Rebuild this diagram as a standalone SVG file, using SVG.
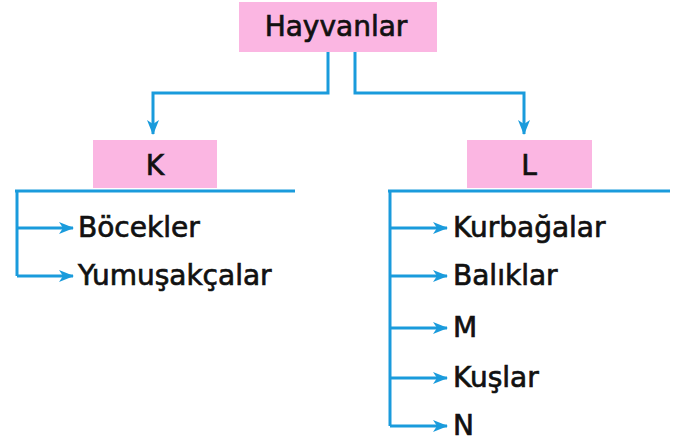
<svg xmlns="http://www.w3.org/2000/svg" width="681" height="443" viewBox="0 0 681 443">
<style>
.box{fill:#fbb6e2}
.t{font-family:"DejaVu Sans",sans-serif;font-size:28px;fill:#111;stroke:#111;stroke-width:0.7}
.c{fill:none;stroke:#1a9bdc;stroke-width:3}
</style>
<defs>
<marker id="ah" viewBox="0 0 15 12" refX="14" refY="6" markerWidth="15" markerHeight="12" markerUnits="userSpaceOnUse" orient="auto">
<path d="M0,0 L15,6 L0,12 L4,6 Z" fill="#1a9bdc"/>
</marker>
</defs>
<rect width="681" height="443" fill="#fff"/>
<g id="hayvanlar"><rect class="box" x="239" y="2" width="198" height="50"/><text class="t" x="336" y="36" text-anchor="middle">Hayvanlar</text></g>
<g id="k"><rect class="box" x="93" y="140" width="124" height="48"/><text class="t" x="155" y="175" text-anchor="middle">K</text></g>
<g id="l"><rect class="box" x="467" y="140" width="125" height="48"/><text class="t" x="529" y="175" text-anchor="middle">L</text></g>
<g id="bocekler"><text class="t" x="78" y="237">Böcekler</text></g>
<g id="yumusakcalar"><text class="t" x="78" y="285">Yumuşakçalar</text></g>
<g id="kurbagalar"><text class="t" x="453" y="237">Kurbağalar</text></g>
<g id="baliklar"><text class="t" x="453" y="285">Balıklar</text></g>
<g id="m"><text class="t" x="453" y="337">M</text></g>
<g id="kuslar"><text class="t" x="453" y="387">Kuşlar</text></g>
<g id="n"><text class="t" x="453" y="435">N</text></g>
<g id="connectors">
<path class="c" d="M328,52 V93 H153 V134" marker-end="url(#ah)"/>
<path class="c" d="M355,52 V93 H524 V134" marker-end="url(#ah)"/>
<path class="c" d="M15,191 H295"/>
<path class="c" d="M17,191 V276"/>
<path class="c" d="M17,228 H73" marker-end="url(#ah)"/>
<path class="c" d="M17,276 H73" marker-end="url(#ah)"/>
<path class="c" d="M388,191 H670"/>
<path class="c" d="M390,191 V426"/>
<path class="c" d="M390,228 H447" marker-end="url(#ah)"/>
<path class="c" d="M390,276 H447" marker-end="url(#ah)"/>
<path class="c" d="M390,328 H447" marker-end="url(#ah)"/>
<path class="c" d="M390,378 H447" marker-end="url(#ah)"/>
<path class="c" d="M390,426 H447" marker-end="url(#ah)"/>
</g>
</svg>
